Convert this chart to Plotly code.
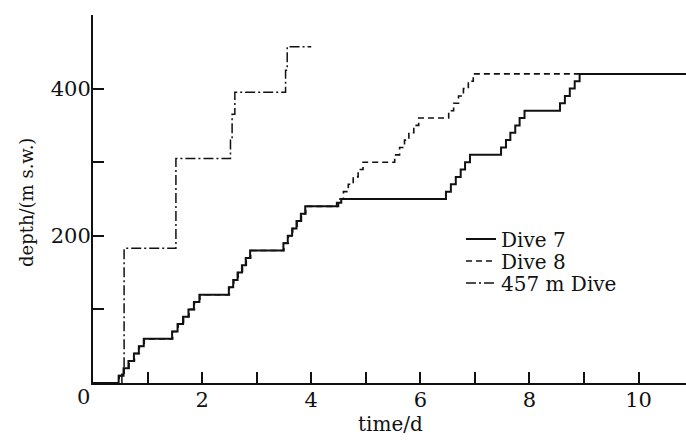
import plotly.graph_objects as go

# Dive 7 (solid)
times7 = [0.00, 0.47, 0.56, 0.65, 0.75, 0.84, 0.93,
          1.45, 1.55, 1.65, 1.75, 1.85, 1.95,
          2.49, 2.57, 2.65, 2.73, 2.80, 2.88,
          3.49, 3.57, 3.65, 3.73, 3.81, 3.89,
          4.47, 4.55,
          6.47, 6.56, 6.65, 6.74, 6.82, 6.91,
          7.48, 7.57, 7.65, 7.74, 7.82, 7.91,
          8.56, 8.65, 8.74, 8.83, 8.92, 10.9]
depths7 = [0, 10, 20, 30, 40, 50, 60,
           70, 80, 90, 100, 110, 120,
           130, 140, 150, 160, 170, 180,
           190, 200, 210, 220, 230, 240,
           245, 250,
           260, 270, 280, 290, 300, 310,
           320, 330, 340, 350, 360, 370,
           380, 390, 400, 410, 420, 420]

# Dive 8 (dashed)
times8 = [0.00, 0.48, 0.57, 0.66, 0.76, 0.85, 0.94,
          1.46, 1.56, 1.66, 1.76, 1.86, 1.96,
          2.50, 2.58, 2.66, 2.74, 2.81, 2.89,
          3.50, 3.58, 3.66, 3.74, 3.82, 3.90,
          4.50, 4.59, 4.68, 4.77, 4.86, 4.95,
          5.53, 5.62, 5.71, 5.79, 5.88, 5.97,
          6.52, 6.61, 6.70, 6.79, 6.88, 6.97, 10.9]
depths8 = [0, 10, 20, 30, 40, 50, 60,
           70, 80, 90, 100, 110, 120,
           130, 140, 150, 160, 170, 180,
           190, 200, 210, 220, 230, 240,
           250, 260, 270, 280, 290, 300,
           310, 320, 330, 340, 350, 360,
           370, 380, 390, 400, 410, 420, 420]

# 457 m Dive (dash-dot)
times457 = [0.53, 0.53, 0.57, 0.57, 1.52, 2.52, 2.55, 2.60, 3.53, 3.56, 4.00]
depths457 = [0, 12, 12, 183, 305, 332, 365, 395, 425, 457, 457]

x_tickvals = [0, 1, 2, 3, 4, 5, 6, 7, 8, 9, 10]
x_ticktext = ["", "", "2", "", "4", "", "6", "", "8", "", "10"]
y_tickvals = [0, 100, 200, 300, 400, 500]
y_ticktext = ["", "", "200", "", "400", ""]

FONT = "DejaVu Serif"
INK = "#111111"

W, H = 686, 440
l, r, t, b = 93, 0, 15, 57
pw, ph = W - l - r, H - t - b


def px_to_paper(xp, yp):
    return (xp - l) / pw, (H - b - yp) / ph


fig = go.Figure()
fig.add_trace(go.Scatter(x=times457, y=depths457, mode="lines", name="457 m Dive",
                         legend="legend3",
                         line=dict(color=INK, width=1.5, dash="10px,3px,2px,3px", shape="hv")))
fig.add_trace(go.Scatter(x=times8, y=depths8, mode="lines", name="Dive 8",
                         legend="legend2",
                         line=dict(color=INK, width=1.6, dash="6px,4px", shape="hv")))
fig.add_trace(go.Scatter(x=times7, y=depths7, mode="lines", name="Dive 7",
                         legend="legend",
                         line=dict(color=INK, width=2, shape="hv")))


def legend_at(ypx):
    x, y = px_to_paper(461, ypx)
    return dict(x=x, y=y, xanchor="left", yanchor="middle", bgcolor="rgba(0,0,0,0)",
                font=dict(size=20, family=FONT, color=INK), itemwidth=30)


fig.update_layout(
    width=W, height=H,
    margin=dict(l=l, r=r, t=t, b=b),
    paper_bgcolor="white", plot_bgcolor="white",
    font=dict(family=FONT, size=20, color=INK),
    showlegend=True,
    legend=legend_at(239),
    legend2=legend_at(261),
    legend3=legend_at(283),
    xaxis=dict(range=[0, 10.87], tickvals=x_tickvals, ticktext=x_ticktext,
               ticks="inside", ticklen=11, tickwidth=1.5, tickcolor=INK,
               showline=True, linecolor=INK, linewidth=2, showgrid=False, zeroline=False,
               automargin=False, tickfont=dict(size=21), ticklabelstandoff=-3),
    yaxis=dict(range=[0, 500], tickvals=y_tickvals, ticktext=y_ticktext,
               ticks="inside", ticklen=11, tickwidth=1.5, tickcolor=INK,
               showline=True, linecolor=INK, linewidth=2, showgrid=False, zeroline=False,
               automargin=False, tickfont=dict(size=21), ticklabelstandoff=-4),
)

fig.add_annotation(x=0, y=0, xref="x", yref="y", text="0", showarrow=False,
                   xanchor="center", yanchor="top", xshift=-10, yshift=0,
                   font=dict(size=21, family=FONT, color=INK))
ax, ay = px_to_paper(390, 424)
fig.add_annotation(x=ax, y=ay, xref="paper", yref="paper", text="time/d", showarrow=False,
                   xanchor="center", yanchor="middle",
                   font=dict(size=20, family=FONT, color=INK))
tx, ty = px_to_paper(26, 203)
fig.add_annotation(x=tx, y=ty, xref="paper", yref="paper", text="depth/(m s.w.)",
                   textangle=-90, showarrow=False, xanchor="center", yanchor="middle",
                   font=dict(size=18, family=FONT, color=INK))

fig.write_html("out.html", config={"displayModeBar": False},
               post_script="document.body.style.margin='0';document.body.style.padding='0';")
